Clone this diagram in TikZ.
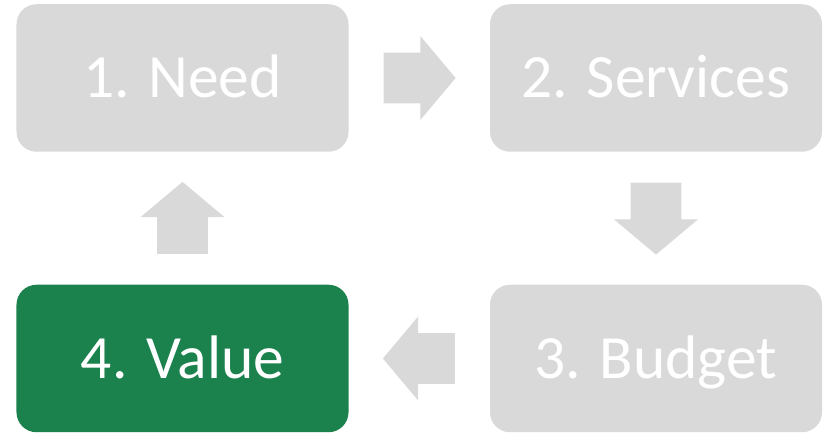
\documentclass[tikz,border=0pt]{standalone}
\usepackage{fontspec}
\setmainfont{Carlito}
\usetikzlibrary{shapes.arrows, calc}

\definecolor{boxgray}{RGB}{217,217,217}
\definecolor{valuegreen}{RGB}{27,130,77}

\tikzset{
	stagebox/.style = {rounded corners = 0.4cm, minimum width = 6.64cm, minimum height = 2.95cm,
		fill = boxgray, text = white, text height = 0.8cm, text depth = 0pt,
		font = \fontsize{35}{42}\selectfont},
	blockarrow/.style = {single arrow, fill = boxgray, inner sep = 0pt, inner ysep = 0.5cm, anchor = tail,
		minimum height = 1.44cm, single arrow head extend = 0.33cm, single arrow tip angle = 100}
}

\begin{document}
\begin{tikzpicture}
	\useasboundingbox (0,0) rectangle (16.54,8.66);

	% stages
	\node[stagebox] (need) at (3.65, 7.10) {1. Need};
	\node[stagebox] (services) at (13.12, 7.10) {2. Services};
	\node[stagebox] (budget) at (13.12, 1.49) {3. Budget};
	\node[stagebox, fill = valuegreen] (value) at (3.65, 1.49) {4. Value};

	% arrows (tail sits half an arrow length before the gap's middle)
	\node[blockarrow] (needtoservices)
		at ($($(need.east)!0.5!(services.west)$)!0.72cm!(need.east)$) {};
	\node[blockarrow, rotate = 270] (servicestobudget)
		at ($($(services.south)!0.5!(budget.north)$)!0.72cm!(services.south)$) {};
	\node[blockarrow, rotate = 180] (budgettovalue)
		at ($($(budget.west)!0.5!(value.east)$)!0.72cm!(budget.west)$) {};
	\node[blockarrow, rotate = 90] (valuetoneed)
		at ($($(value.north)!0.5!(need.south)$)!0.72cm!(value.north)$) {};
\end{tikzpicture}
\end{document}
